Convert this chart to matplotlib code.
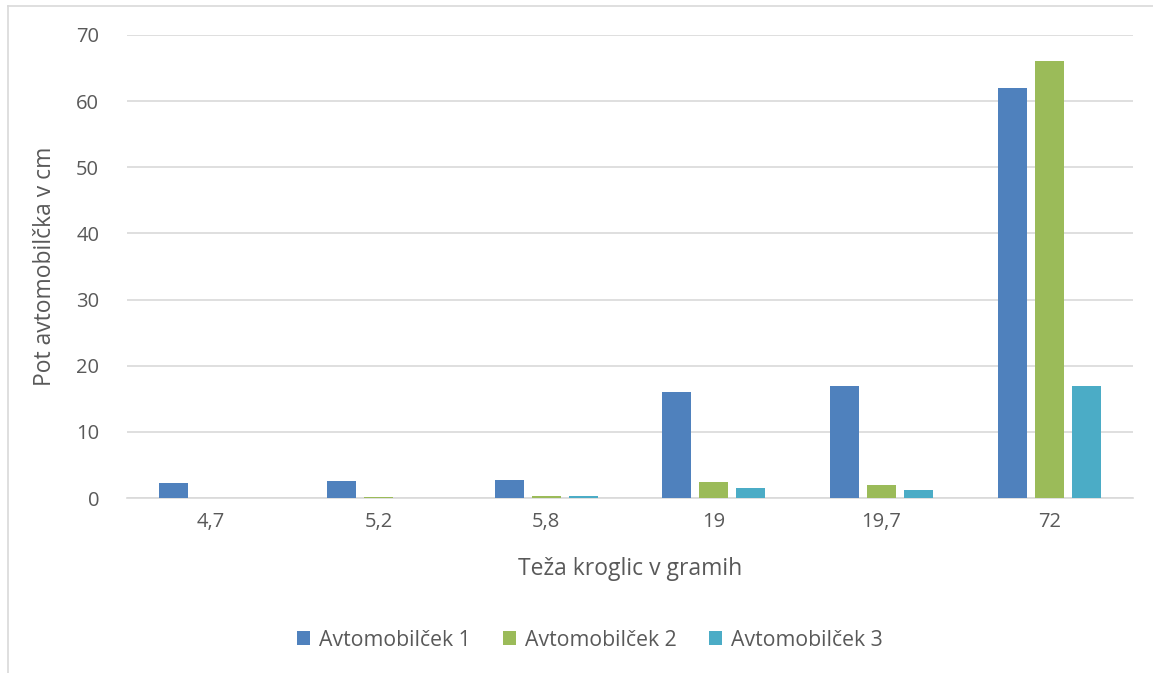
import matplotlib
matplotlib.use("Agg")
import matplotlib.pyplot as plt
from matplotlib.lines import Line2D
import numpy as np

categories = ["4,7", "5,2", "5,8", "19", "19,7", "72"]
series_names = ["Avtomobilček 1", "Avtomobilček 2", "Avtomobilček 3"]
car1 = [2.3, 2.6, 2.7, 16, 17, 62]
car2 = [0, 0.2, 0.3, 2.4, 2, 66]
car3 = [0, 0, 0.3, 1.5, 1.2, 17]
colors = ["#4F81BD", "#9BBB59", "#4BACC6"]
y_ticks = [0, 10, 20, 30, 40, 50, 60, 70]

plt.rcParams["font.family"] = ["Open Sans", "DejaVu Sans"]
text_color = "#595959"

W, H = 1153, 673
fig = plt.figure(figsize=(W / 100, H / 100), dpi=100)
ax = fig.add_axes([127 / W, 1 - 498 / H, (1133 - 127) / W, (498 - 35) / H])

x = np.arange(len(categories))
offset = 0.22
width = 0.173
for i, (vals, name, col) in enumerate(zip([car1, car2, car3], series_names, colors)):
    ax.bar(x + (i - 1) * offset, vals, width=width, color=col, label=name, zorder=3)

ax.set_xlim(-0.5, len(categories) - 0.5)
ax.set_ylim(0, 70)
ax.set_yticks(y_ticks)
ax.set_xticks(x)
ax.set_xticklabels(categories)
ax.tick_params(axis="both", length=0, labelsize=14.5, colors=text_color)
ax.tick_params(axis="y", pad=20)
ax.tick_params(axis="x", pad=10)
ax.grid(axis="y", color="#D9D9D9", linewidth=1.2, zorder=0)
for s in ["top", "right", "left"]:
    ax.spines[s].set_visible(False)
ax.spines["bottom"].set_color("#D9D9D9")
ax.spines["bottom"].set_linewidth(1.2)

ax.set_xlabel("Teža kroglic v gramih", fontsize=16.5, color=text_color, labelpad=18)
ax.set_ylabel("Pot avtomobilčka v cm", fontsize=16.5, color=text_color, labelpad=14)

leg = fig.legend(loc="center", bbox_to_anchor=(590 / W, 1 - 640 / H), ncol=3,
                 frameon=False, fontsize=15.3, handlelength=0.6, handleheight=0.6,
                 columnspacing=1.5, handletextpad=0.45, labelcolor=text_color)

# chart frame
fig.add_artist(Line2D([8 / W, 1.0], [1 - 6 / H, 1 - 6 / H], color="#D9D9D9", linewidth=1.2,
                      transform=fig.transFigure))
fig.add_artist(Line2D([8 / W, 8 / W], [0.0, 1 - 6 / H], color="#D9D9D9", linewidth=1.2,
                      transform=fig.transFigure))

fig.savefig("out.png", dpi=100)
